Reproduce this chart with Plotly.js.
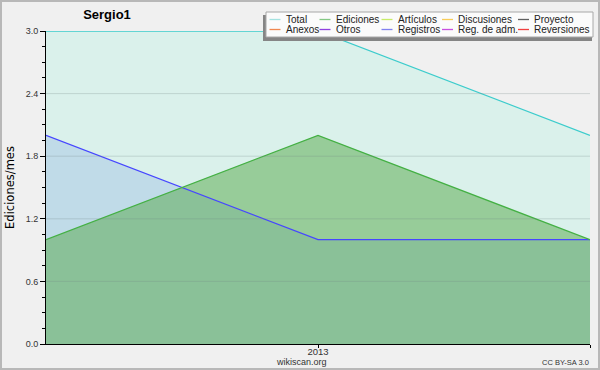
<!DOCTYPE html>
<html>
<head>
<meta charset="utf-8">
<script src="https://cdn.plot.ly/plotly-3.0.1.min.js"></script>
<style>
  html, body { margin: 0; padding: 0; background: #f0f0f0; }
  #wrap { position: relative; width: 600px; height: 370px; }
  #chart { width: 600px; height: 370px; }
  #frame { position: absolute; left: 0; top: 0; width: 600px; height: 370px; box-sizing: border-box;
           border: 2px solid #b8b8b8; pointer-events: none; }
</style>
</head>
<body>
<div id="wrap"><div id="chart"></div><div id="frame"></div></div>
<script>
// ---- data ----
const months = ['2012-12-01', '2013-01-01', '2013-02-01'];
const totalValues = [3, 3, 2];
const registrosValues = [2, 1, 1];
const edicionesValues = [1, 2, 1];
const yTicks = [0, 0.6, 1.2, 1.8, 2.4, 3.0];
const xTicks = ['2013-01-01', '2013-02-01'];
const xTickText = ['2013', ''];
const legendNames = ['Total', 'Ediciones', 'Artículos', 'Discusiones', 'Proyecto',
                     'Anexos', 'Otros', 'Registros', 'Reg. de adm.', 'Reversiones'];
const legendColors = ['#a4e2e0', '#84c884', '#c8ec68', '#f8cc58', '#606060',
                      '#f08850', '#9040e0', '#8080f0', '#c850e0', '#f04040'];

// ---- layout constants ----
const W = 600, H = 370;
const M = { l: 46, r: 10, t: 31, b: 26 };
const PW = W - M.l - M.r, PH = H - M.t - M.b;
const px = x => (x - M.l) / PW;
const py = y => (H - M.b - y) / PH;

const series = [
  { y: totalValues, name: 'Total', line: '#3ccccc', fill: '#daf1eb' },
  { y: registrosValues, name: 'Registros', line: '#4646ff', fill: 'rgba(172,200,230,0.55)' },
  { y: edicionesValues, name: 'Ediciones', line: '#44b044', fill: 'rgba(84,168,72,0.5)' }
];
const traces = [];
// fills first
series.forEach(s => traces.push({ x: months, y: s.y, name: s.name, type: 'scatter', mode: 'lines',
  line: { width: 0, color: s.line }, fill: 'tozeroy', fillcolor: s.fill, showlegend: false, hoverinfo: 'skip' }));
// lines on top of all fills
series.forEach(s => traces.push({ x: months, y: s.y, name: s.name, type: 'scatter', mode: 'lines',
  line: { width: 1.3, color: s.line }, showlegend: false }));

const shapes = [];
// gridlines drawn above the fills
yTicks.forEach(v => {
  if (v > 0 && v < 3) {
    shapes.push({ type: 'line', xref: 'paper', yref: 'y', x0: 0, x1: 1, y0: v, y1: v,
      line: { color: 'rgba(110,130,130,0.25)', width: 1 }, layer: 'above' });
  }
});

// custom legend box
const box = { x0: 266, x1: 593, y0: 12, y1: 37 };
shapes.push({ type: 'rect', xref: 'paper', yref: 'paper',
  x0: px(box.x0 - 3), x1: px(box.x1 - 1), y0: py(box.y1 + 4), y1: py(box.y0 + 3),
  fillcolor: '#858585', line: { width: 0 }, layer: 'above' });
shapes.push({ type: 'rect', xref: 'paper', yref: 'paper',
  x0: px(box.x0), x1: px(box.x1), y0: py(box.y1), y1: py(box.y0),
  fillcolor: '#fbfbfb', line: { color: '#a8a8a8', width: 1 }, layer: 'above' });

const colText = [284.5, 334.5, 396.5, 457, 533];
const rowY = [19.5, 29.5];
const annotations = [];
legendNames.forEach((name, i) => {
  const c = i % 5, r = Math.floor(i / 5);
  const tx = colText[c], ty = rowY[r];
  shapes.push({ type: 'line', xref: 'paper', yref: 'paper',
    x0: px(tx - 15), x1: px(tx - 4), y0: py(ty), y1: py(ty),
    line: { color: legendColors[i], width: 1.3 }, layer: 'above' });
  annotations.push({ xref: 'paper', yref: 'paper', x: px(tx - 1), y: py(ty),
    xanchor: 'left', yanchor: 'middle', text: name, showarrow: false,
    font: { family: 'Liberation Sans, Arial, sans-serif', size: 10, color: '#222' } });
});

annotations.push({ xref: 'paper', yref: 'paper', x: px(301), y: py(362), xanchor: 'center', yanchor: 'middle',
  text: 'wikiscan.org', showarrow: false, font: { family: 'Liberation Sans, Arial, sans-serif', size: 9, color: '#333' } });
annotations.push({ xref: 'paper', yref: 'paper', x: px(591), y: py(362), xanchor: 'right', yanchor: 'middle',
  text: 'CC BY-SA 3.0', showarrow: false, font: { family: 'Liberation Sans, Arial, sans-serif', size: 7.5, color: '#333' } });

const layout = {
  width: W, height: H,
  margin: M,
  paper_bgcolor: '#f0f0f0',
  plot_bgcolor: 'rgba(0,0,0,0)',
  showlegend: false,
  title: { text: 'Sergio1', xref: 'container', yref: 'container', x: 107 / W, y: 1 - 14 / H,
    xanchor: 'center', yanchor: 'middle',
    font: { family: 'Liberation Sans, Arial, sans-serif', size: 13, weight: 'bold', color: '#000' } },
  xaxis: {
    type: 'date', range: [months[0], months[months.length - 1]],
    tickvals: xTicks, ticktext: xTickText,
    ticks: 'outside', ticklen: 3, tickcolor: '#000', tickwidth: 1, ticklabelstandoff: -4,
    showline: true, linecolor: '#000', linewidth: 1, showgrid: false, zeroline: false,
    tickfont: { family: 'Liberation Sans, Arial, sans-serif', size: 9.5, color: '#333' },
    layer: 'above traces', fixedrange: true
  },
  yaxis: {
    range: [0, 3], tickvals: yTicks, ticktext: yTicks.map(v => v.toFixed(1)),
    ticks: 'outside', ticklen: 5, tickcolor: '#000', tickwidth: 1,
    minor: { dtick: 0.15, ticks: 'outside', ticklen: 3, tickcolor: '#000', showgrid: false },
    showline: true, linecolor: '#000', linewidth: 1, showgrid: false, zeroline: false,
    tickfont: { family: 'Liberation Sans, Arial, sans-serif', size: 9, color: '#333' },
    title: { text: 'Ediciones/mes', standoff: 8,
      font: { family: 'DejaVu Sans, sans-serif', size: 11.5, color: '#000' } },
    layer: 'above traces', fixedrange: true
  },
  shapes: shapes,
  annotations: annotations
};

Plotly.newPlot('chart', traces, layout, { displayModeBar: false, staticPlot: true });
</script>
</body>
</html>
